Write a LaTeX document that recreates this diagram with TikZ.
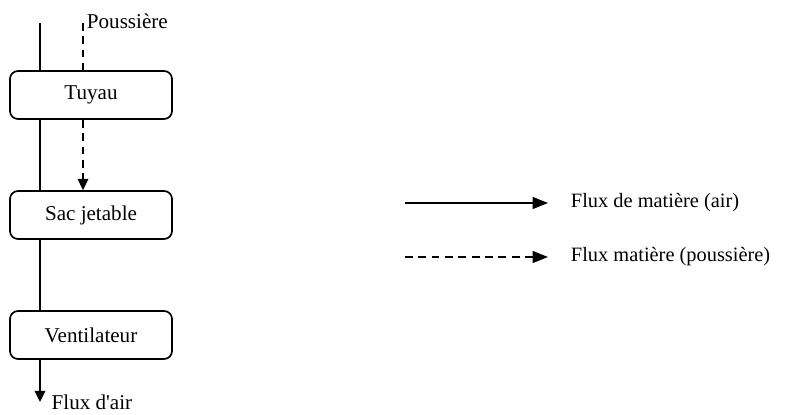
\documentclass[tikz,border=0pt]{standalone}
\usepackage{fontspec}
\setmainfont{Liberation Serif}
\usepackage{tikz}
\usetikzlibrary{arrows.meta}

\tikzset{
  unitbox/.style={draw,line width=1.2pt,rounded corners=0.2cm,minimum width=4.05cm,minimum height=1.2cm,font=\fontsize{15}{18}\selectfont},
  airflow/.style={line width=1.2pt},
  dustflow/.style={line width=1.2pt,dash pattern=on 5.5pt off 4pt},
  flowtip/.style={-{Triangle[length=8pt,width=7.5pt]}},
  legendtip/.style={-{Triangle[length=11pt,width=8.5pt]}},
  flowlabel/.style={anchor=west,font=\fontsize{15}{18}\selectfont},
  legendlabel/.style={anchor=west,font=\fontsize{14.5}{17}\selectfont}
}

\begin{document}
\begin{tikzpicture}[x=1cm,y=1cm]
\path[use as bounding box] (0,0) rectangle (19.825,10.35);
% process units
\node[unitbox] (tuyau) at (2.275,7.975) {Tuyau};
\node[unitbox] (sac) at (2.275,4.975) {Sac jetable};
\node[unitbox] (vent) at (2.275,1.975) {Ventilateur};
% free ends
\coordinate (airin) at (1.0,9.775);
\coordinate (airout) at (1.0,0.30);
\coordinate (dustin) at (2.075,9.775);
\node[flowlabel] (dustlbl) at (2.05,9.83) {Poussi\`ere};
\node[flowlabel,inner sep=1pt] (airlbl) at (1.25,0.30) {Flux d\textquotesingle air};
% air path
\draw[airflow] (airin) -- (airin |- tuyau.north);
\draw[airflow] (airin |- tuyau.south) -- (airin |- sac.north);
\draw[airflow] (airin |- sac.south) -- (airin |- vent.north);
\draw[airflow,flowtip] (airin |- vent.south) -- (airout);
% dust path
\draw[dustflow] (dustin) -- (dustin |- tuyau.north);
\draw[dustflow,flowtip] (dustin |- tuyau.south) -- (dustin |- sac.north);
% legend
\coordinate (legairA) at (10.125,5.275);
\coordinate (legairB) at (13.70,5.275);
\coordinate (legdustA) at (10.125,3.925);
\coordinate (legdustB) at (13.70,3.925);
\draw[airflow,legendtip] (legairA) -- (legairB);
\node[legendlabel] (legair) at (14.15,5.275) {Flux de mati\`ere (air)};
\draw[dustflow,legendtip] (legdustA) -- (legdustB);
\node[legendlabel] (legdust) at (14.15,3.925) {Flux mati\`ere (poussi\`ere)};
\end{tikzpicture}
\end{document}
